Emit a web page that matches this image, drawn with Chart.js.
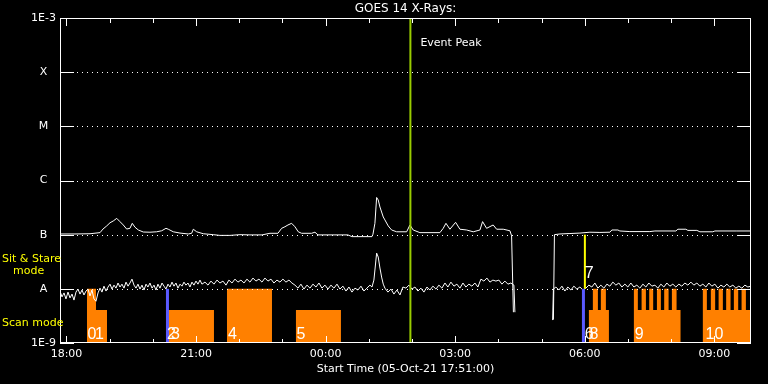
<!DOCTYPE html>
<html>
<head>
<meta charset="utf-8">
<script src="https://cdn.jsdelivr.net/npm/chart.js@4.4.1/dist/chart.umd.min.js"></script>
<style>
html,body{margin:0;padding:0;background:#000;}
#wrap{width:768px;height:384px;position:relative;}
</style>
</head>
<body>
<div id="wrap"><canvas id="c" width="768" height="384"></canvas></div>
<script>
// ---- axes (x = minutes since 05-Oct-21 17:51:00, y = flux W/m^2) ----
const xTickValues = [9, 189, 369, 549, 729, 909];
const xTickLabels = ['18:00', '21:00', '00:00', '03:00', '06:00', '09:00'];
const hourTicks = [9, 69, 129, 189, 249, 309, 369, 429, 489, 549, 609, 669, 729, 789, 849, 909];
const yTickValues = [1e-9, 1e-8, 1e-7, 1e-6, 1e-5, 1e-4, 1e-3];
const yTickLabels = ['1E-9', 'A', 'B', 'C', 'M', 'X', '1E-3'];
const gridLevels = [1e-8, 1e-7, 1e-6, 1e-5, 1e-4];

// ---- long channel (1-8 A), flux in nW/m^2 ----
const longTime = [0,20.8,41.7,55.6,59.7,64.9,69.5,74.0,78.8,83.3,
  87.9,92.6,97.2,100.4,104.2,108.8,115.7,125.0,134.3,141.3,
  147.2,150.4,157.4,166.7,178.2,182.9,185.2,189.9,199.0,212.9,
  222.2,236.1,250.0,263.9,280.6,291.7,302.8,307.9,312.5,316.7,
  321.8,326.4,331.0,335.7,349.6,354.2,358.4,382.0,400.0,405.6,
  433.4,434.8,437.5,439.9,442.1,444.5,446.8,449.1,451.4,456.0,
  460.7,467.7,481.6,486.2,490.7,500.0,527.8,532.4,536.2,541.7,
  549.6,555.6,564.9,574.1,583.4,587.1,592.7,601.8,606.6,615.8,
  625.1,627.4,629.9,650,685.5,686.9,694.5,708.4,722.3,736.2,
  750.1,764.0,766.7,775.1,777.8,791.7,819.5,826.5,855.6,858.4,
  869.5,872.3,884.8,889.0,907.0,909.8,940.4,960];
const longFlux = [103,103,104,109,127,145,166,179,200,174,
  151,127,131,162,137,122,112,111,113,118,
  131,126,113,107,103,106,126,113,104,100,
  97,97,100,99,99,106,106,131,140,151,
  162,140,113,106,106,111,99,99,99,92,
  92,102,162,486,437,324,262,212,187,145,
  122,113,113,151,122,109,109,131,162,126,
  169,126,122,113,122,174,131,151,126,126,
  118,95,3.7,null,2.7,100,103,105,107,111,
  110,111,122,122,117,114,114,117,117,126,
  126,120,120,113,113,117,117,117];

// ---- short channel (0.5-4 A), flux in nW/m^2 ----
const shortTime = [0,2.8,5.6,8.3,11.1,13.9,16.7,19.4,22.2,25.0,
  27.8,30.6,33.3,36.1,38.9,41.7,44.4,47.2,50.0,52.8,
  55.6,58.3,61.1,63.9,66.7,69.5,72.2,75.0,77.8,80.6,
  83.3,86.1,88.9,91.7,94.5,97.2,100.0,102.8,105.6,108.3,
  111.1,113.9,116.7,119.5,122.2,125.0,127.8,130.6,133.3,136.1,
  138.9,141.7,144.5,147.2,150.0,152.8,155.6,158.3,161.1,163.9,
  166.7,169.5,172.2,175.0,177.8,180.6,183.3,186.1,188.9,191.7,
  194.5,197.2,201.4,205.6,209.7,213.9,218.1,222.2,226.4,230.6,
  234.7,238.9,243.1,247.2,251.4,255.6,259.7,263.9,268.1,272.2,
  276.4,280.6,284.7,288.9,293.1,297.2,301.4,305.6,309.7,313.9,
  318.1,322.2,326.4,330.6,334.7,338.9,343.1,347.3,351.4,355.6,
  359.8,363.9,368.1,372.3,376.4,380.6,384.8,388.9,393.1,397.3,
  401.4,405.6,409.8,413.9,418.1,422.3,426.4,430.6,433.4,436.1,
  439.9,442.1,444.5,446.8,449.1,451.4,455.6,459.8,463.9,468.1,
  472.3,476.4,480.6,484.8,488.9,493.1,497.3,501.4,505.6,509.8,
  513.9,518.1,522.3,526.4,530.6,534.8,538.9,543.1,547.3,551.4,
  555.6,559.8,563.9,568.1,572.3,576.4,580.6,584.8,588.9,593.1,
  597.3,601.4,605.6,609.8,613.9,618.1,622.3,626.4,630.6,632.0,
  660,684.4,685.5,688.9,693.1,697.3,701.4,705.6,709.8,713.9,
  718.1,722.3,726.5,730.6,734.8,738.9,743.1,747.3,751.4,755.6,
  759.8,763.9,768.1,772.3,776.4,780.6,784.8,788.9,793.1,797.3,
  801.4,805.6,809.8,813.9,818.1,822.3,826.5,830.6,834.8,838.9,
  843.1,847.3,851.4,855.6,859.8,863.9,868.1,872.3,876.5,880.6,
  884.8,889.0,893.1,897.3,901.5,905.6,909.8,914.0,918.1,922.3,
  926.5,930.6,934.8,939.0,943.1,947.3,951.5,955.6,960];
const shortFlux = [9.1,7.1,8.4,6.5,8.7,6.8,8.0,6.2,8.7,9.9,
  8.0,9.5,7.7,9.1,9.9,7.4,9.5,6.5,5.9,8.4,
  10.3,8.7,11.2,9.1,10.8,12.2,9.9,11.7,10.3,12.8,
  10.8,12.2,10.3,13.3,11.2,12.8,15.1,11.7,10.3,12.2,
  9.9,11.7,9.5,12.2,10.8,12.8,10.3,11.7,9.5,12.2,
  10.3,12.8,11.2,9.9,12.2,10.8,13.3,11.2,12.8,10.3,
  12.2,11.2,13.3,11.7,12.8,10.8,13.3,11.7,13.9,12.2,
  14.5,12.2,13.3,11.7,13.9,12.2,14.5,12.8,13.9,11.7,
  14.5,12.8,15.1,13.3,14.5,12.8,15.1,13.3,15.8,13.9,
  15.1,13.3,15.8,13.9,15.1,12.8,14.5,13.3,15.1,13.3,
  14.5,12.8,11.7,10.3,12.2,9.9,11.7,10.3,12.2,10.8,
  12.8,10.3,11.7,9.9,11.7,10.3,12.2,9.9,11.2,9.1,
  10.8,8.7,10.3,9.5,11.2,9.1,10.3,11.7,10.8,14.5,
  45.7,38.6,24.2,16.5,12.2,10.3,8.7,9.9,8.0,9.5,
  7.7,10.8,10.3,11.7,9.9,10.8,9.1,10.3,8.7,10.8,
  9.5,11.2,9.9,11.7,10.3,12.8,10.8,13.3,11.2,12.2,
  10.3,12.8,10.8,12.2,11.2,12.8,10.8,15.1,13.9,15.8,
  13.3,14.5,13.9,14.5,12.2,13.9,12.2,12.8,11.7,3.7,
  null,2.65,9.9,10.8,9.5,11.2,9.1,10.8,9.5,11.2,
  9.9,10.8,9.5,10.3,11.7,10.8,12.8,10.3,11.7,10.3,
  12.2,11.2,13.3,11.7,12.8,10.8,12.2,10.8,12.8,10.8,
  11.7,10.3,12.2,10.8,12.8,11.2,11.7,10.3,12.2,10.8,
  12.8,11.2,12.2,10.8,12.2,11.2,12.8,11.7,13.3,11.7,
  12.8,11.2,12.2,10.8,12.8,11.2,12.2,10.3,11.7,10.8,
  12.2,10.8,11.7,10.3,11.2,10.3,11.7,10.8,11.2];

// ---- scan mode bars (step levels, nW/m^2) ----
const scanTime = [0,37.5,50.0,65.3,150.0,213.9,232.0,294.5,327.8,390.3,
  734.8,740.3,747.3,751.4,758.4,762.6,
  797.3,802.8,808.0,814.0,818.6,824.1,829.3,834.8,839.4,845.5,850.1,856.6,862.1,
  893.1,898.7,904.2,910.2,915.0,920.9,925.5,931.6,936.2,942.2,946.9,952.9,960];
const scanLevel = [1,10,4.07,1,4.07,1,10,1,4.07,1,
  4.07,10,4.07,10,4.07,1,
  10,4.07,10,4.07,10,4.07,10,4.07,10,4.07,10,4.07,1,
  10,4.07,10,4.07,10,4.07,10,4.07,10,4.07,10,4.07,4.07];
const scanLabels = ['0','1','2','3','4','5','6','8','9','10'];
const scanLabelTime = [38.2,48.6,148.6,154.2,233.4,328.5,729.2,735.5,798.6,896.9];
const sitStareLabel = '7';
const sitStareLabelTime = 729.2;

// ---- markers ----
const eventPeakTime = 486.8;
const blueMarkTimes = [149.3, 727.2];
const yellowMarkTime = 729.2;

const pts = (ts, vs) => ts.map((t, i) => ({x: t, y: vs[i] === null ? null : vs[i] * 1e-9}));
const vline = (t, lo, hi) => [{x: t, y: lo}, {x: t, y: hi}];

const FONT = '"DejaVu Sans", sans-serif';

const goesDecor = {
  id: 'goesDecor',
  afterDatasetDraw(chart, args) {
    if (args.index !== 6) return;
    const {ctx, chartArea: a, scales: {y}} = chart;
    ctx.save();
    ctx.strokeStyle = '#ffffff';
    ctx.lineWidth = 1;
    ctx.setLineDash([1, 4]);
    ctx.lineDashOffset = -2;
    gridLevels.forEach(v => {
      const py = Math.round(y.getPixelForValue(v)) + 0.5;
      ctx.beginPath(); ctx.moveTo(a.left, py); ctx.lineTo(a.right, py); ctx.stroke();
    });
    ctx.restore();
  },
  afterDraw(chart) {
    const {ctx, chartArea: a, scales: {x, y}} = chart;
    ctx.save();
    ctx.strokeStyle = '#ffffff';
    ctx.lineWidth = 1;
    ctx.setLineDash([]);
    ctx.strokeRect(a.left + 0.5, a.top + 0.5, a.right - a.left - 1, a.bottom - a.top - 1);
    // y ticks (inside, both sides)
    yTickValues.forEach(v => {
      const py = Math.round(y.getPixelForValue(v)) + 0.5;
      ctx.beginPath();
      ctx.moveTo(a.left, py); ctx.lineTo(a.left + 14, py);
      ctx.moveTo(a.right - 14, py); ctx.lineTo(a.right, py);
      ctx.stroke();
    });
    // x ticks (inside, top and bottom)
    hourTicks.forEach(t => {
      const px = Math.round(x.getPixelForValue(t)) + 0.5;
      const major = xTickValues.includes(t);
      const lb = major ? 6 : 3, lt = major ? 7 : 4;
      ctx.beginPath();
      ctx.moveTo(px, a.bottom - 1); ctx.lineTo(px, a.bottom - 1 - lb);
      ctx.moveTo(px, a.top + 1); ctx.lineTo(px, a.top + 1 + lt);
      ctx.stroke();
    });
    // title
    ctx.fillStyle = '#ffffff';
    ctx.textBaseline = 'middle';
    ctx.textAlign = 'center';
    ctx.font = '12px ' + FONT;
    ctx.fillText('GOES 14 X-Rays:', (a.left + a.right) / 2, 9);
    // event peak label
    ctx.textAlign = 'left';
    ctx.font = '11px ' + FONT;
    ctx.fillText('Event Peak', x.getPixelForValue(eventPeakTime) + 10, 43);
    // mode labels
    ctx.fillStyle = '#ffff00';
    ctx.fillText('Sit & Stare', 2, 259);
    ctx.fillText('mode', 13, 271.5);
    ctx.fillText('Scan mode', 2, 323.5);
    // scan numbers
    ctx.fillStyle = '#ffffff';
    ctx.textBaseline = 'alphabetic';
    ctx.font = '16px "Liberation Sans Narrow", "Liberation Sans", sans-serif';
    scanLabels.forEach((s, i) => ctx.fillText(s, x.getPixelForValue(scanLabelTime[i]), a.bottom - 4));
    ctx.fillText(sitStareLabel, x.getPixelForValue(sitStareLabelTime), y.getPixelForValue(1e-8) - 11);
    ctx.restore();
  }
};

new Chart(document.getElementById('c'), {
  type: 'line',
  data: {
    datasets: [
      {label: 'Event Peak', data: vline(eventPeakTime, 1e-9, 1e-3), borderColor: '#99cc00', borderWidth: 2, pointRadius: 0, order: 0},
      {label: 'mark1', data: vline(blueMarkTimes[0], 1e-9, 1e-8), borderColor: '#5a5aff', borderWidth: 3, pointRadius: 0, order: 0},
      {label: 'mark2', data: vline(blueMarkTimes[1], 1e-9, 1e-8), borderColor: '#5a5aff', borderWidth: 3, pointRadius: 0, order: 0},
      {label: 'sit-stare', data: vline(yellowMarkTime, 1e-8, 1e-7), borderColor: '#ffff00', borderWidth: 2, pointRadius: 0, order: 0},
      {label: 'long', data: pts(longTime, longFlux), borderColor: '#ffffff', borderWidth: 1, pointRadius: 0, spanGaps: false, order: 1},
      {label: 'short', data: pts(shortTime, shortFlux), borderColor: '#ffffff', borderWidth: 1, pointRadius: 0, spanGaps: false, order: 1},
      {label: 'scan', data: pts(scanTime, scanLevel), stepped: true, fill: 'start', backgroundColor: '#ff8000', borderColor: 'rgba(0,0,0,0)', borderWidth: 0, pointRadius: 0, order: 2}
    ]
  },
  options: {
    responsive: false,
    devicePixelRatio: 1,
    animation: false,
    events: [],
    layout: {padding: {left: 0, right: 17, top: 18, bottom: 0}},
    plugins: {legend: {display: false}, tooltip: {enabled: false}, title: {display: false}},
    scales: {
      x: {
        type: 'linear', position: 'bottom', min: 0, max: 960,
        grid: {display: false, drawTicks: false},
        border: {display: false},
        afterBuildTicks: s => { s.ticks = xTickValues.map(v => ({value: v})); },
        afterFit: s => { s.height = 41; },
        ticks: {color: '#ffffff', font: {family: FONT, size: 11}, padding: 5, maxRotation: 0, autoSkip: false,
          callback: (v, i) => xTickLabels[i]},
        title: {display: true, text: 'Start Time (05-Oct-21 17:51:00)', color: '#ffffff',
          font: {family: FONT, size: 11}, padding: {top: 0, bottom: 8}}
      },
      y: {
        type: 'logarithmic', position: 'left', min: 1e-9, max: 1e-3,
        grid: {display: false, drawTicks: false},
        border: {display: false},
        afterBuildTicks: s => { s.ticks = yTickValues.map(v => ({value: v})); },
        afterFit: s => { s.width = 60; },
        ticks: {color: '#ffffff', font: {family: FONT, size: 11}, padding: 4, crossAlign: 'center', autoSkip: false,
          callback: (v, i) => yTickLabels[i]}
      }
    }
  },
  plugins: [goesDecor]
});
</script>
</body>
</html>
